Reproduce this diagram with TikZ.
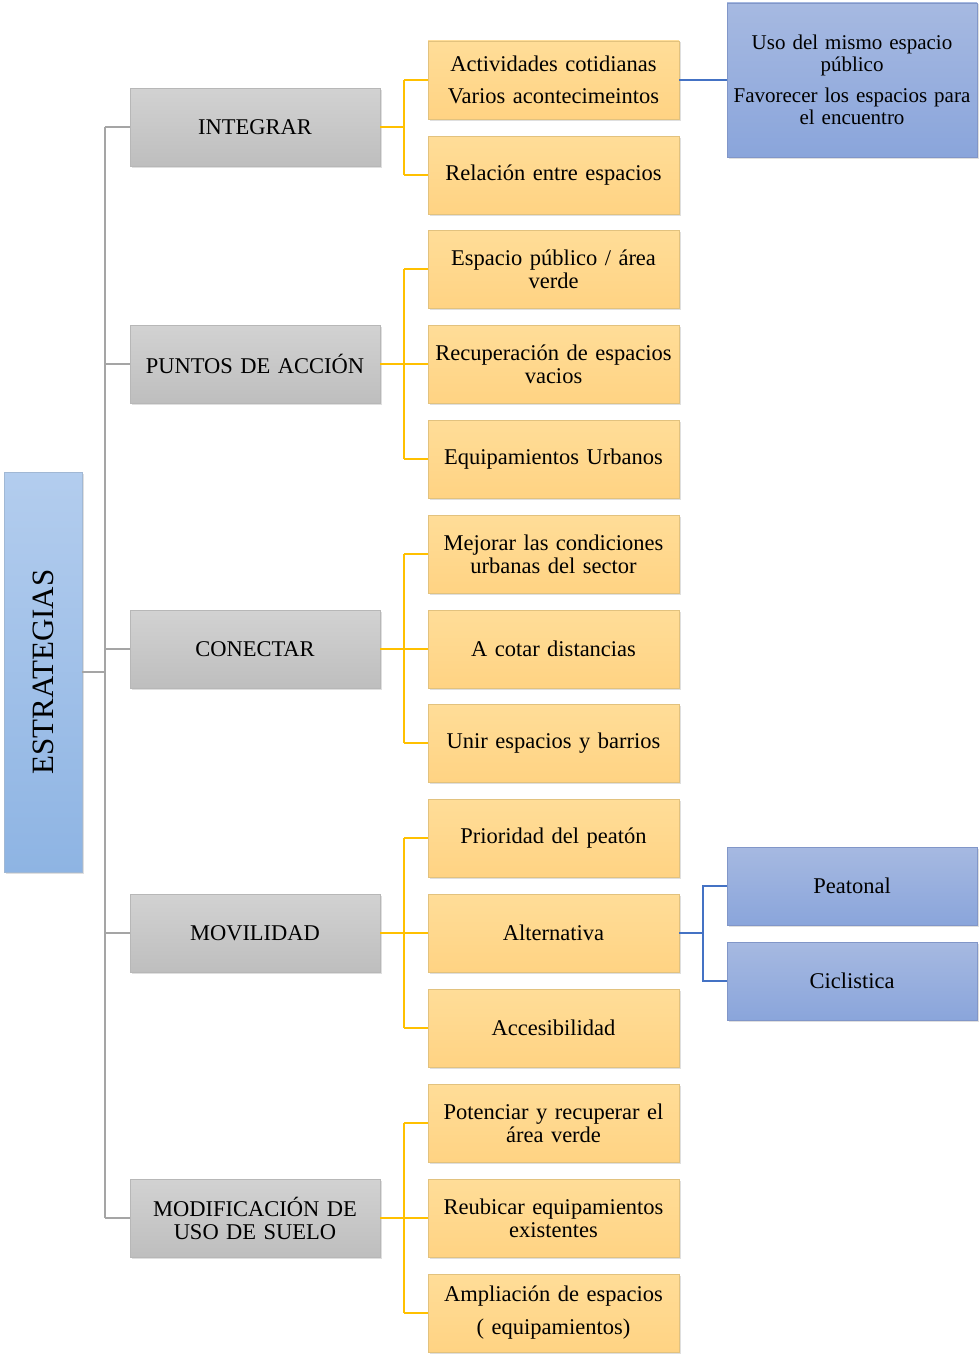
\documentclass[tikz,border=0pt]{standalone}
\usepackage{fontspec}
\setmainfont{Liberation Serif}
\usepackage{xcolor}
\usepackage{tikz}
\usetikzlibrary{positioning, shadows}
\definecolor{estrblue}{HTML}{8EB4E3}
\definecolor{estrlight}{HTML}{B3CDEE}
\definecolor{greytop}{HTML}{D2D2D2}
\definecolor{greybot}{HTML}{BEBEBE}
\definecolor{greyline}{HTML}{A5A5A5}
\definecolor{yellowtop}{HTML}{FFDD98}
\definecolor{yellowbot}{HTML}{FFD383}
\definecolor{yellowedge}{HTML}{E2C27E}
\definecolor{goldline}{HTML}{FFC000}
\definecolor{bluetop}{HTML}{A6B9E1}
\definecolor{bluebot}{HTML}{8AA5DB}
\definecolor{blueedge}{HTML}{8196C8}
\definecolor{blueline}{HTML}{4472C4}

\tikzset{
    box/.style={minimum width=250pt, minimum height=78pt, inner sep=0pt,
                text width=248pt, align=center,
                font=\fontsize{22.5}{23}\selectfont,
                drop shadow={opacity=0.25, shadow xshift=1.5pt, shadow yshift=-1.5pt}},
    greybox/.style={box, top color=greytop, bottom color=greybot, draw=greyline!80},
    yellowbox/.style={box, minimum width=251pt, top color=yellowtop, bottom color=yellowbot, draw=yellowedge},
    bluebox/.style={box, top color=bluetop, bottom color=bluebot, draw=blueedge},
    greyconn/.style={draw=greyline, line width=2pt},
    goldconn/.style={draw=goldline, line width=2pt},
    blueconn/.style={draw=blueline, line width=2pt}
}

\begin{document}
\begin{tikzpicture}[x=1pt, y=-1pt]
    \useasboundingbox (0,0) rectangle (978,1354);

    \node[box, minimum width=78pt, minimum height=400pt, text width=,
          top color=estrlight, bottom color=estrblue, draw=estrblue!85!black!70,
          label={[rotate=90, font=\fontsize{31}{31}\selectfont]center:ESTRATEGIAS}]
          (estr) at (43,672) {};

    \node[greybox] (integ)  at (255,127)  {INTEGRAR};
    \node[greybox] (puntos) at (255,364)  {PUNTOS DE ACCIÓN};
    \node[greybox] (conect) at (255,649)  {CONECTAR};
    \node[greybox] (movil)  at (255,933)  {MOVILIDAD};
    \node[greybox] (modif)  at (255,1218) {MODIFICACIÓN DE\\USO DE SUELO};

    \node[yellowbox] (activ)  at (553.5,80)   {Actividades cotidianas\\[9pt]Varios acontecimeintos};
    \node[yellowbox] (relac)  at (553.5,175)  {Relación entre espacios};
    \node[yellowbox] (espac)  at (553.5,269)  {Espacio público / área\\verde};
    \node[yellowbox] (recup)  at (553.5,364)  {Recuperación de espacios\\vacios};
    \node[yellowbox] (equip)  at (553.5,459)  {Equipamientos Urbanos};
    \node[yellowbox] (mejor)  at (553.5,554)  {Mejorar las condiciones\\urbanas del sector};
    \node[yellowbox] (acotar) at (553.5,649)  {A cotar distancias};
    \node[yellowbox] (unir)   at (553.5,743)  {Unir espacios y barrios};
    \node[yellowbox] (priori) at (553.5,838)  {Prioridad del peatón};
    \node[yellowbox] (altern) at (553.5,933)  {Alternativa};
    \node[yellowbox] (acces)  at (553.5,1028) {Accesibilidad};
    \node[yellowbox] (poten)  at (553.5,1123) {Potenciar y recuperar el\\área verde};
    \node[yellowbox] (reubic) at (553.5,1218) {Reubicar equipamientos\\existentes};
    \node[yellowbox] (amplia) at (553.5,1313) {Ampliación de espacios\\[10pt]( equipamientos)};

    \node[bluebox, minimum height=154pt, font=\fontsize{21}{22}\selectfont] (usomis) at (852,80)
        {Uso del mismo espacio\\público\\[9pt]Favorecer los espacios para\\el encuentro};
    \node[bluebox] (peaton) at (852,886) {Peatonal};
    \node[bluebox] (ciclis) at (852,981) {Ciclistica};

    \coordinate (trunk) at (105,0);
    \coordinate (fork)  at (404,0);
    \coordinate (bfork) at (703,0);

    \draw[greyconn] (estr.east) -- (estr.east -| trunk);
    \draw[greyconn] (integ.west -| trunk) -- (modif.west -| trunk);
    \foreach \g in {integ,puntos,conect,movil,modif}
        \draw[greyconn] (\g.west) -- (\g.west -| trunk);

    \foreach \p/\a/\b/\kids in {integ/activ/relac/{activ,relac},
                               puntos/espac/equip/{espac,recup,equip},
                               conect/mejor/unir/{mejor,acotar,unir},
                               movil/priori/acces/{priori,altern,acces},
                               modif/poten/amplia/{poten,reubic,amplia}}{
        \draw[goldconn] (\p.east) -- (\p.east -| fork);
        \draw[goldconn] (\a.west -| fork) -- (\b.west -| fork);
        \foreach \k in \kids
            \draw[goldconn] (\k.west) -- (\k.west -| fork);
    }

    \draw[blueconn] (activ.east) -- (activ.east -| usomis.west);
    \draw[blueconn] (altern.east) -- (altern.east -| bfork);
    \draw[blueconn] (peaton.west) -- (peaton.west -| bfork) -- (ciclis.west -| bfork) -- (ciclis.west);
\end{tikzpicture}
\end{document}
